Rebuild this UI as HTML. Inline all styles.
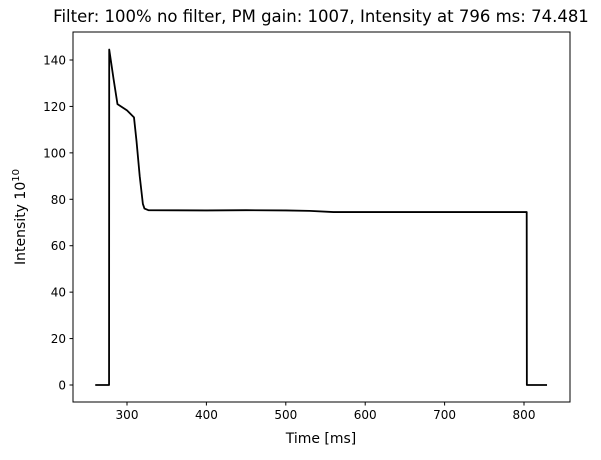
<!DOCTYPE html>
<html><head><meta charset="utf-8"><style>
body{margin:0;background:#fff;}
svg text{font-family:"DejaVu Sans","Liberation Sans",sans-serif;fill:#000;}
</style></head><body>
<svg id="chart" width="601" height="455">
<text x="321" y="22" font-size="16.5" text-anchor="middle">Filter: 100% no filter, PM gain: 1007, Intensity at 796 ms: 74.481</text>
<g id="axes"></g>
<rect x="73" y="32" width="497" height="370" fill="none" stroke="#000" stroke-width="1"/>
<text x="321" y="443" font-size="14" text-anchor="middle">Time [ms]</text>
<text transform="translate(25,217) rotate(-90)" font-size="14" text-anchor="middle">Intensity 10<tspan dy="-6" font-size="10">10</tspan></text>
</svg>
<script>
const times = [260, 277.4, 277.6, 280, 283, 288, 300, 308.8, 312, 316, 320, 322, 327, 400, 450, 500, 530, 560, 650, 750, 803.4, 803.6, 829];
const intensities = [0, 0, 144.5, 139, 132, 121, 118.3, 115.3, 105, 90, 78, 76, 75.3, 75.2, 75.3, 75.2, 75.0, 74.5, 74.5, 74.5, 74.5, 0, 0];
const xTicks = [300, 400, 500, 600, 700, 800];
const yTicks = [0, 20, 40, 60, 80, 100, 120, 140];
const xs = v => 127 + (v - 300) * 0.794;
const ys = v => 385 - v * 2.3214;
const ns = "http://www.w3.org/2000/svg";
const g = document.getElementById('axes');
function mk(t, a){const e=document.createElementNS(ns,t);for(const k in a)e.setAttribute(k,a[k]);g.appendChild(e);return e;}
xTicks.forEach(v=>{
  const l=mk('line',{x1:xs(v),x2:xs(v),y1:402,y2:405.5,stroke:'#000'});
  
  
  const t=mk('text',{x:xs(v),y:419,'font-size':12,'text-anchor':'middle'});t.textContent=v;
  
  
});
yTicks.forEach(v=>{
  const l=mk('line',{x1:69.5,x2:73,y1:ys(v),y2:ys(v),stroke:'#000'});
  
  
  const t=mk('text',{x:66,y:ys(v)+4.5,'font-size':12,'text-anchor':'end'});t.textContent=v;
  
  
});
const p=mk('polyline',{points:times.map((t,i)=>xs(t)+','+ys(intensities[i])).join(' '),fill:'none',stroke:'#000','stroke-width':1.8,'stroke-linejoin':'round'});


</script>
</body></html>
